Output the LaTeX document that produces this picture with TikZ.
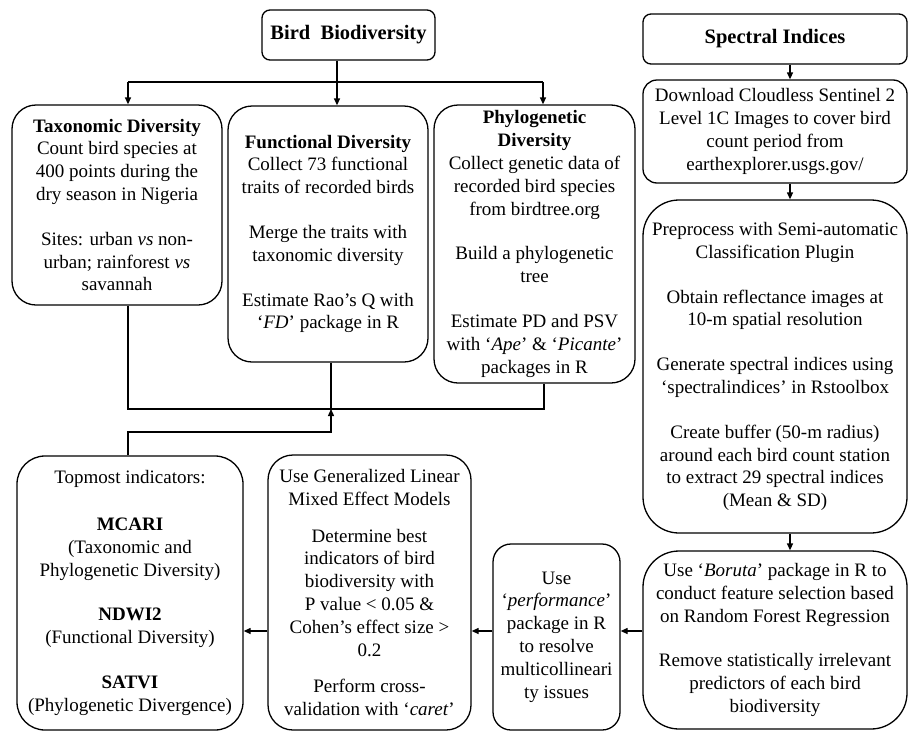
\documentclass[tikz,border=0pt]{standalone}
\usepackage{fontspec}
\setmainfont{Liberation Serif}
\usetikzlibrary{arrows.meta}

\tikzset{
  stage/.style={draw, line width=1.3pt, align=center, inner sep=0pt,
    font=\fontsize{19}{22.8}\selectfont},
  heading/.style={stage, rounded corners=8pt,
    font=\fontsize{20.5}{24}\selectfont\bfseries},
  link/.style={line width=1.3pt},
  flow/.style={link, -{Triangle[length=7pt,width=6pt]}},
}

\begin{document}
\begin{tikzpicture}[x=1pt,y=-1pt]
  \useasboundingbox (0,0) rectangle (909,731);

  % Define nodes
  \node[heading, minimum width=173pt, minimum height=50pt] (bird) at (348.5,35) {Bird\ \ Biodiversity};
  \node[heading, minimum width=264pt, minimum height=50pt] (spec) at (775,39) {Spectral Indices};

  \node[stage, rounded corners=24pt, minimum width=210pt, minimum height=200pt] (tax) at (117,205)
    {\textbf{Taxonomic Diversity}\\ Count bird species at\\ 400 points during the\\ dry season in Nigeria\\[22pt]
     Sites: urban \textit{vs} non-\\ urban; rainforest \textit{vs}\\ savannah};
  \node[stage, rounded corners=24pt, minimum width=200pt, minimum height=256pt] (func) at (328,234)
    {\textbf{Functional Diversity}\\ Collect 73 functional\\ traits of recorded birds\\[22pt]
     Merge the traits with\\ taxonomic diversity\\[22pt]
     Estimate Rao's Q with\\ `\textit{FD}' package in R};
  \node[stage, rounded corners=24pt, minimum width=201pt, minimum height=278pt] (phylo) at (534.5,244)
    {\textbf{Phylogenetic}\\ \textbf{Diversity}\\ Collect genetic data of\\ recorded bird species\\ from birdtree.org\\[22pt]
     Build a phylogenetic\\ tree\\[22pt]
     Estimate PD and PSV\\ with `\textit{Ape}' \& `\textit{Picante}'\\ packages in R};

  \node[stage, rounded corners=14pt, minimum width=264pt, minimum height=103pt] (down) at (775,131.5)
    {Download Cloudless Sentinel 2\\ Level 1C Images to cover bird\\ count period from\\ earthexplorer.usgs.gov/};
  \node[stage, rounded corners=36pt, minimum width=264pt, minimum height=333pt] (prep) at (775,366.5)
    {Preprocess with Semi-automatic\\ Classification Plugin\\[22pt]
     Obtain reflectance images at\\ 10-m spatial resolution\\[22pt]
     Generate spectral indices using\\ `spectralindices' in Rstoolbox\\[22pt]
     Create buffer (50-m radius)\\ around each bird count station\\ to extract 29 spectral indices\\ (Mean \& SD)};
  \node[stage, rounded corners=36pt, minimum width=264pt, minimum height=178pt] (boruta) at (775,640)
    {Use `\textit{Boruta}' package in R to\\ conduct feature selection based\\ on Random Forest Regression\\[22pt]
     Remove statistically irrelevant\\ predictors of each bird\\ biodiversity};

  \node[stage, rounded corners=18pt, minimum width=127pt, minimum height=186pt] (perf) at (556.5,637)
    {Use\\ `\textit{performance}'\\ package in R\\ to resolve\\ multicollineari\\ ty issues};
  \node[stage, rounded corners=25pt, minimum width=203pt, minimum height=275pt] (glmm) at (369.5,592.5)
    {Use Generalized Linear\\ Mixed Effect Models\\[14pt]
     Determine best\\ indicators of bird\\ biodiversity with\\ P value < 0.05 \&\\ Cohen's effect size >\\ 0.2\\[14pt]
     Perform cross-\\ validation with `\textit{caret}'};
  \node[stage, rounded corners=28pt, minimum width=226pt, minimum height=274pt] (top) at (130,593)
    {Topmost indicators:\\[24pt]
     \textbf{MCARI}\\ (Taxonomic and\\ Phylogenetic Diversity)\\[22pt]
     \textbf{NDWI2}\\ (Functional Diversity)\\[22pt]
     \textbf{SATVI}\\ (Phylogenetic Divergence)};

  % Junction points
  \coordinate (hub) at (337,82);
  \coordinate (tl) at (128,82);
  \coordinate (tr) at (543,82);
  \coordinate (bl) at (128,409);
  \coordinate (bm) at (331,409);
  \coordinate (br) at (544,409);
  \coordinate (turn) at (331,432);
  \coordinate (sx) at (790,0);
  \coordinate (ay) at (0,631);

  % Connect the nodes
  \draw[link] (bird.south -| hub) -- (hub);
  \draw[link] (tl) -- (tr);
  \draw[flow] (tl) -- (tl |- tax.north);
  \draw[flow] (hub) -- (hub |- func.north);
  \draw[flow] (tr) -- (tr |- phylo.north);

  \draw[link] (tax.south -| bl) -- (bl) -- (br) -- (phylo.south -| br);
  \draw[link] (func.south -| bm) -- (bm);
  \draw[flow] (top.north -| bl) |- (turn) -- (bm);

  \draw[flow] (spec.south -| sx) -- (down.north -| sx);
  \draw[flow] (down.south -| sx) -- (prep.north -| sx);
  \draw[flow] (prep.south -| sx) -- (boruta.north -| sx);

  \draw[flow] (boruta.west |- ay) -- (perf.east |- ay);
  \draw[flow] (perf.west |- ay) -- (glmm.east |- ay);
  \draw[flow] (glmm.west |- ay) -- (top.east |- ay);

\end{tikzpicture}
\end{document}
